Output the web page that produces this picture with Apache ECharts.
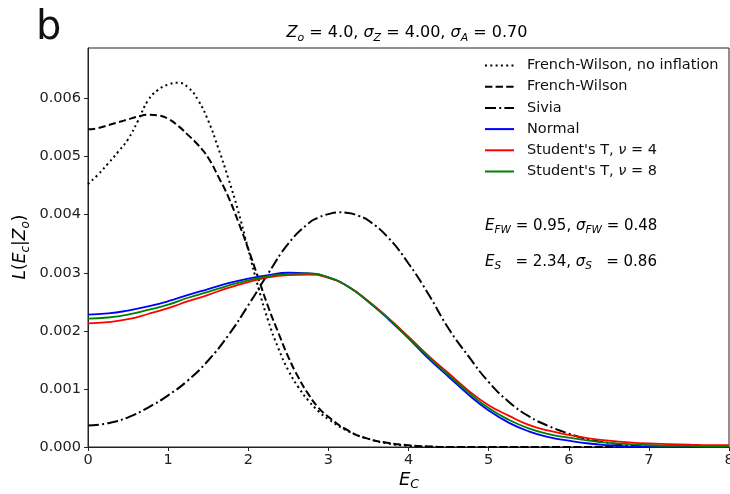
<!DOCTYPE html>
<html>
<head>
<meta charset="utf-8">
<script src="https://cdn.jsdelivr.net/npm/echarts@6/dist/echarts.min.js"></script>
<style>html,body{margin:0;padding:0;background:#fff}#c{width:730px;height:494px}</style>
</head>
<body>
<div id="c"></div>
<script>
// x positions for the colored curves
const xs = [0,0.25,0.5,0.75,1,1.25,1.5,1.75,2,2.25,2.5,2.75,3,3.25,3.5,3.75,4,4.25,4.5,4.75,5,5.25,5.5,5.75,6,6.25,6.5,6.75,7,7.25,7.5,7.75,8];
// x positions for the French-Wilson curves (denser where they change fast)
const xsFW = [0,0.125,0.25,0.375,0.5,0.625,0.75,0.875,1,1.125,1.25,1.375,1.5,1.625,1.75,1.875,2,2.125,2.25,2.375,2.5,2.625,2.75,2.875,3,3.25,3.5,3.75,4,4.25,4.5,5,6,7,8];
const fwNoInflation = [0.00453,0.00469,0.00488,0.00508,0.00530,0.00562,0.00597,0.00615,0.00624,0.00627,0.00619,0.00597,0.00562,0.00515,0.00463,0.00406,0.00340,0.00275,0.00217,0.00170,0.00132,0.00103,0.00080,0.00062,0.00048,0.00027,0.00014,0.00006,0.00002,0.000005,0,0,0,0,0];
const frenchWilson = [0.00547,0.00549,0.00554,0.00559,0.00564,0.00569,0.00572,0.00571,0.00565,0.00553,0.00537,0.00520,0.00498,0.00466,0.00431,0.00388,0.00341,0.00291,0.00241,0.00197,0.00155,0.00120,0.00091,0.00068,0.00052,0.00028,0.00014,0.00007,0.00003,0.00001,0,0,0,0,0];
// x positions for the Sivia curve
const xsSivia = [0,0.25,0.5,0.75,1,1.25,1.5,1.75,2,2.25,2.5,2.75,2.875,3,3.125,3.25,3.375,3.5,3.75,4,4.25,4.5,4.75,5,5.25,5.5,5.75,6,6.25,6.5,6.75,7,7.5,8];
const sivia = [0.00037,0.00041,0.00051,0.00068,0.00089,0.00115,0.00149,0.00192,0.00244,0.00299,0.00350,0.00385,0.00395,0.00401,0.00404,0.00403,0.00398,0.00390,0.00360,0.00316,0.00263,0.00204,0.00156,0.00112,0.00078,0.00053,0.00036,0.00023,0.00013,0.00007,0.00003,0.00001,0,0];
const normal = [0.00228,0.00230,0.00235,0.00242,0.00251,0.00262,0.00272,0.00282,0.00290,0.00296,0.00300,0.00299,0.00292,0.00276,0.00250,0.00220,0.00187,0.00152,0.00121,0.00090,0.00063,0.00042,0.00027,0.00017,0.00011,0.00006,0.00003,0.00001,0,0,0,0,0];
const student4 = [0.00213,0.00215,0.00220,0.00229,0.00239,0.00251,0.00262,0.00274,0.00284,0.00292,0.00296,0.00297,0.00291,0.00276,0.00251,0.00222,0.00190,0.00157,0.00127,0.00097,0.00072,0.00054,0.00038,0.00028,0.00021,0.00015,0.00011,0.00008,0.00006,0.00005,0.00004,0.00003,0.00003];
const student8 = [0.00221,0.00223,0.00228,0.00236,0.00245,0.00257,0.00267,0.00278,0.00287,0.00294,0.00298,0.00299,0.00292,0.00276,0.00250,0.00221,0.00188,0.00155,0.00124,0.00094,0.00067,0.00047,0.00032,0.00022,0.00016,0.00011,0.00007,0.00005,0.00003,0.00002,0.00002,0.00001,0.00001];
const yTicks = [0,0.001,0.002,0.003,0.004,0.005,0.006];
const seriesNames = ['French-Wilson, no inflation','French-Wilson','Sivia','Normal',"Student's T, {i|ν} = 4","Student's T, {i|ν} = 8"];

const FF = 'DejaVu Sans';
const TICK_FS = 14.5;
const pairs = (xv, ys) => xv.map((x, i) => [x, ys[i]]);

const chart = echarts.init(document.getElementById('c'), null, {renderer: 'canvas'});

function mk(name, data, color, type, width, z) {
  return {
    name: name, type: 'line', data: data, symbol: 'none', smooth: 0.5,
    lineStyle: {color: color, width: width, type: type, cap: 'butt'},
    itemStyle: {color: color}, z: z
  };
}

const annRich = {
  i: {fontFamily: FF, fontStyle: 'italic', fontSize: 15, color: '#111', lineHeight: 20},
  n: {fontFamily: FF, fontSize: 15, color: '#111', lineHeight: 20},
  s: {fontFamily: FF, fontStyle: 'italic', fontSize: 10.5, color: '#111', lineHeight: 11, verticalAlign: 'bottom'}
};
const titleRich = {
  i: {fontFamily: FF, fontStyle: 'italic', fontSize: 16, color: '#111', lineHeight: 21},
  n: {fontFamily: FF, fontSize: 16, color: '#111', lineHeight: 21},
  s: {fontFamily: FF, fontStyle: 'italic', fontSize: 11, color: '#111', lineHeight: 11, verticalAlign: 'bottom'}
};

const option = {
  animation: false,
  backgroundColor: '#fff',
  grid: {left: 88, right: 1, top: 48, bottom: 47, show: true, borderColor: '#222', borderWidth: 1,
    backgroundColor: 'transparent', containLabel: false, outerBoundsMode: 'none'},
  xAxis: {
    type: 'value', min: 0, max: 8, interval: 1,
    axisLine: {show: true, onZero: false, lineStyle: {color: '#222', width: 1}},
    axisTick: {show: true, length: 4, inside: false, lineStyle: {color: '#222'}},
    axisLabel: {fontFamily: FF, fontSize: TICK_FS, color: '#222', margin: 6, hideOverlap: false},
    splitLine: {show: false}
  },
  yAxis: {
    type: 'value', min: 0, max: 0.00687,
    axisLine: {show: true, lineStyle: {color: '#222', width: 1}},
    axisTick: {show: true, length: 4, inside: false, lineStyle: {color: '#222'}, customValues: yTicks},
    axisLabel: {fontFamily: FF, fontSize: TICK_FS, color: '#222', margin: 7, customValues: yTicks,
      formatter: v => v.toFixed(3)},
    splitLine: {show: false}
  },
  legend: {
    orient: 'vertical', left: 484, top: 58, padding: 0, itemWidth: 29, itemHeight: 14, itemGap: 6.2,
    data: seriesNames,
    itemStyle: {opacity: 0},
    textStyle: {fontFamily: FF, fontSize: 14.5, color: '#111', padding: [0,0,0,8],
      rich: {i: {fontFamily: FF, fontSize: 14.5, fontStyle: 'italic', color: '#111'}}}
  },
  series: [
    mk(seriesNames[0], pairs(xsFW, fwNoInflation), '#000', [2, 3.3], 2, 3),
    mk(seriesNames[1], pairs(xsFW, frenchWilson), '#000', [7.4, 3.2], 2, 3),
    mk(seriesNames[2], pairs(xsSivia, sivia), '#000', [11, 3.2, 2, 3.2], 2, 3),
    mk(seriesNames[3], pairs(xs, normal), '#0000ff', 'solid', 1.8, 4),
    mk(seriesNames[4], pairs(xs, student4), '#ff0000', 'solid', 1.8, 4),
    mk(seriesNames[5], pairs(xs, student8), '#008000', 'solid', 1.8, 4)
  ],
  graphic: [
    {type: 'text', x: 36, y: 29, style: {text: 'b', font: '40px "DejaVu Sans"', fill: '#111', align: 'left', verticalAlign: 'middle'}},
    {type: 'text', x: 407, y: 33, style: {
      text: '{i|Z}{s|o}{n| = 4.0, }{i|σ}{s|Z}{n| = 4.00, }{i|σ}{s|A}{n| = 0.70}',
      rich: titleRich, align: 'center', verticalAlign: 'middle'}},
    {type: 'text', x: 485, y: 226, style: {
      text: '{i|E}{s|FW}{n| = 0.95, }{i|σ}{s|FW}{n| = 0.48}',
      rich: annRich, align: 'left', verticalAlign: 'middle'}},
    {type: 'text', x: 485, y: 262, style: {
      text: '{i|E}{s|S}{n|   = 2.34, }{i|σ}{s|S}{n|   = 0.86}',
      rich: annRich, align: 'left', verticalAlign: 'middle'}},
    {type: 'text', x: 409, y: 480, style: {
      text: '{i|E}{s|C}',
      rich: {
        i: {fontFamily: FF, fontStyle: 'italic', fontSize: 18, color: '#111', lineHeight: 23},
        s: {fontFamily: FF, fontStyle: 'italic', fontSize: 12.5, color: '#111', lineHeight: 12, verticalAlign: 'bottom'}
      }, align: 'center', verticalAlign: 'middle'}},
    {type: 'text', x: 21, y: 247, rotation: Math.PI / 2, style: {
      text: '{i|L}{n|(}{i|E}{s|c}{n||}{i|Z}{s|o}{n|)}',
      rich: {
        i: {fontFamily: FF, fontStyle: 'italic', fontSize: 17, color: '#111', lineHeight: 22},
        n: {fontFamily: FF, fontSize: 17, color: '#111', lineHeight: 22},
        s: {fontFamily: FF, fontStyle: 'italic', fontSize: 12, color: '#111', lineHeight: 12, verticalAlign: 'bottom'}
      }, align: 'center', verticalAlign: 'middle'}}
  ]
};
chart.setOption(option);
</script>
</body>
</html>
